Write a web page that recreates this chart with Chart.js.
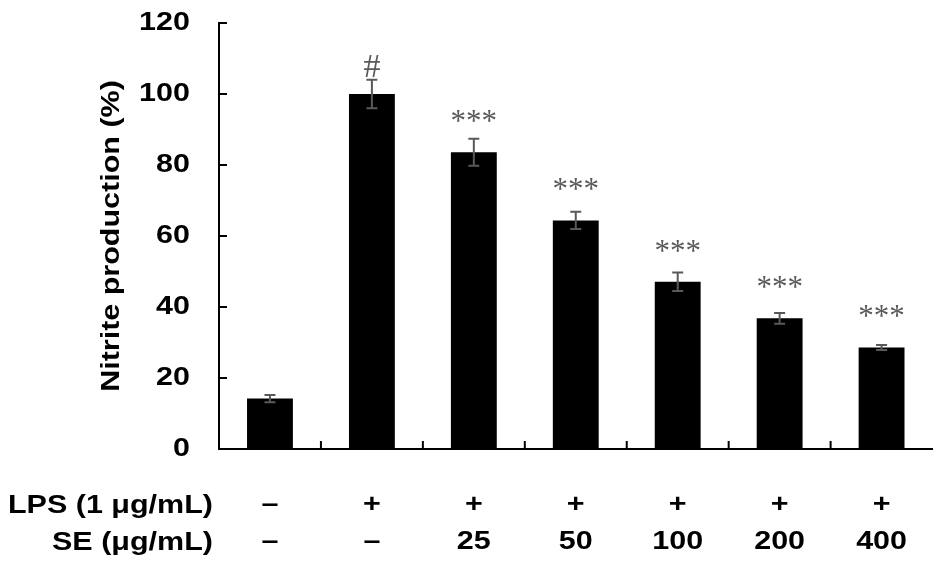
<!DOCTYPE html>
<html>
<head>
<meta charset="utf-8">
<script src="https://cdn.jsdelivr.net/npm/chart.js@4"></script>
<style>
  html, body { margin: 0; padding: 0; background: #fff; }
  #wrap { width: 941px; height: 568px; position: relative; }
</style>
</head>
<body>
<div id="wrap"><canvas id="c" width="941" height="568"></canvas></div>
<script>
const lpsLabels = ['–', '+', '+', '+', '+', '+', '+'];
const seLabels = ['–', '–', '25', '50', '100', '200', '400'];
const rowTitles = ['LPS (1 μg/mL)', 'SE (μg/mL)'];
const values = [14.2, 100, 83.6, 64.4, 47.1, 36.8, 28.6];
const errors = [1.0, 4.0, 3.8, 2.4, 2.6, 1.5, 0.7];
const marks = ['', '#', '***', '***', '***', '***', '***'];
const yTicks = [0, 20, 40, 60, 80, 100, 120];

const labels = lpsLabels.map((l, i) => [l, seLabels[i]]);
const FONT = "'Liberation Sans', Arial, sans-serif";
const STRETCH = 1.22; // reference sans text is wider than Arial

const canvas = document.getElementById('c');
const ctx0 = canvas.getContext('2d');
const origFill = ctx0.fillText;
ctx0.fillText = function (text, x, y, maxWidth) {
  if (this.font.indexOf('Liberation Sans') !== -1) {
    this.save();
    this.translate(x, y);
    this.scale(STRETCH, 1);
    origFill.call(this, text, 0, 0);
    this.restore();
  } else if (maxWidth === undefined) {
    origFill.call(this, text, x, y);
  } else {
    origFill.call(this, text, x, y, maxWidth);
  }
};

const extras = {
  id: 'extras',
  afterDatasetsDraw(chart) {
    const ctx = chart.ctx;
    const meta = chart.getDatasetMeta(0);
    const y = chart.scales.y;
    const x = chart.scales.x;
    ctx.save();
    // error bars
    ctx.strokeStyle = '#595959';
    ctx.lineWidth = 2;
    meta.data.forEach((bar, i) => {
      const cx = bar.x;
      const top = y.getPixelForValue(values[i] + errors[i]);
      const bot = y.getPixelForValue(values[i] - errors[i]);
      ctx.beginPath();
      ctx.moveTo(cx, top); ctx.lineTo(cx, bot);
      ctx.moveTo(cx - 5.5, top); ctx.lineTo(cx + 5.5, top);
      ctx.moveTo(cx - 5.5, bot); ctx.lineTo(cx + 5.5, bot);
      ctx.stroke();
    });
    // significance marks
    ctx.fillStyle = '#595959';
    ctx.textAlign = 'center';
    ctx.textBaseline = 'alphabetic';
    meta.data.forEach((bar, i) => {
      if (!marks[i]) return;
      const top = y.getPixelForValue(values[i]);
      if (marks[i] === '#') {
        ctx.font = "34px 'Liberation Serif', 'Times New Roman', serif";
        ctx.fillText(marks[i], bar.x, top - 17.5);
      } else {
        ctx.font = "31px 'Liberation Serif', 'Times New Roman', serif";
        ctx.fillText(marks[i], bar.x, top - 21);
      }
    });
    // axis ticks (inward)
    ctx.strokeStyle = '#000';
    ctx.lineWidth = 2;
    ctx.beginPath();
    yTicks.forEach(v => {
      const py = Math.round(y.getPixelForValue(v));
      ctx.moveTo(chart.chartArea.left, py);
      ctx.lineTo(chart.chartArea.left + 8, py);
    });
    for (let i = 1; i < labels.length; i++) {
      const px = (x.getPixelForValue(i - 1) + x.getPixelForValue(i)) / 2;
      ctx.moveTo(px, chart.chartArea.bottom);
      ctx.lineTo(px, chart.chartArea.bottom - 8);
    }
    ctx.stroke();
    // row titles
    ctx.fillStyle = '#000';
    ctx.font = "bold 25px " + FONT;
    ctx.textAlign = 'right';
    ctx.textBaseline = 'middle';
    ctx.fillText(rowTitles[0], 213, 506);
    ctx.fillText(rowTitles[1], 213, 543);
    ctx.restore();
  }
};

new Chart(canvas, {
  type: 'bar',
  data: {
    labels: labels,
    datasets: [{
      data: values,
      backgroundColor: '#000',
      borderWidth: 0,
      barPercentage: 0.45,
      categoryPercentage: 1.0
    }]
  },
  options: {
    responsive: false,
    animation: false,
    devicePixelRatio: 1,
    layout: { padding: { left: 0, right: 8, top: 23, bottom: 0 } },
    plugins: { legend: { display: false }, tooltip: { enabled: false } },
    scales: {
      x: {
        grid: { display: false, drawTicks: false },
        border: { display: true, color: '#000', width: 2 },
        ticks: {
          color: '#000',
          font: { family: FONT, size: 25, weight: 'bold', lineHeight: 1.48 },
          padding: 38,
          maxRotation: 0,
          autoSkip: false
        },
        afterFit(s) { s.height = 119; }
      },
      y: {
        min: 0, max: 120,
        grid: {
          display: true,
          drawOnChartArea: false,
          drawTicks: true,
          tickLength: 29,
          tickColor: 'rgba(0,0,0,0)'
        },
        border: { display: true, color: '#000', width: 2 },
        ticks: {
          stepSize: 20,
          color: '#000',
          font: { family: FONT, size: 25, weight: 'bold' },
          padding: 0
        },
        title: {
          display: true,
          text: 'Nitrite production (%)',
          color: '#000',
          font: { family: FONT, size: 25, weight: 'bold' },
          padding: { top: 97, bottom: 0 }
        },
        afterFit(s) { s.width = 219; }
      }
    }
  },
  plugins: [extras]
});
</script>
</body>
</html>
